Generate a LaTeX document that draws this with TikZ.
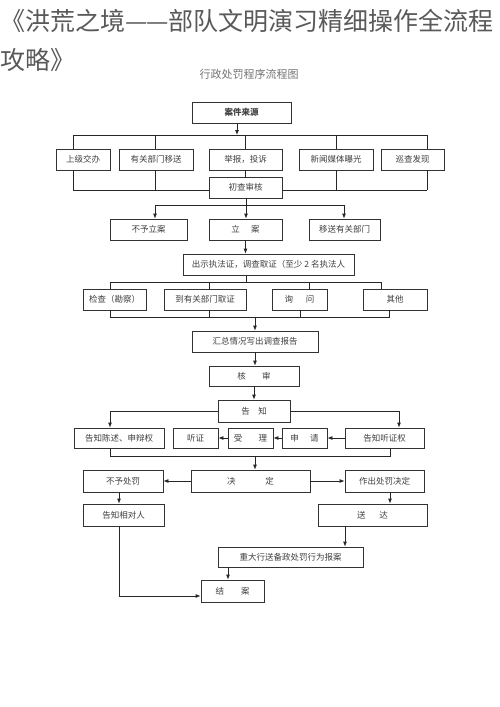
\documentclass[tikz,border=0pt]{standalone}
\usepackage{fontspec}
\setmainfont{Noto Sans CJK SC}
\usetikzlibrary{arrows.meta}
\newcommand\gp[1]{\hspace{#1em}}

\begin{document}
\begin{tikzpicture}[x=1pt,y=-1pt,
  box/.style={draw=black!80,line width=0.8pt,fill=white,inner sep=0pt,minimum height=21pt,
    font=\fontsize{8.5}{10}\selectfont,text=black!75},
  ln/.style={line width=0.8pt,black!85},
  arr/.style={ln,-{Latex[length=5pt,width=4pt]}}]
\useasboundingbox (0,0) rectangle (500,707);

\node[anchor=base west,inner sep=0pt,font=\fontsize{25}{30}\selectfont,text=black!65] (title1) at (0,30) {《洪荒之境—\kern-1pt—部队文明演习精细操作全流程};
\node[anchor=base west,inner sep=0pt,font=\fontsize{25}{30}\selectfont,text=black!65] (title2) at (0,69) {攻略》};
\node[font=\fontsize{11}{13}\selectfont,text=black!55] (sub) at (249,74) {行政处罚程序流程图};

\node[box,minimum width=99pt,font=\bfseries\fontsize{8.5}{10}\selectfont] (src) at (241.5,112.5) {案件来源};

\node[box,minimum width=54pt] (sj) at (83,159.5) {上级交办};
\node[box,minimum width=74pt] (yg) at (156,159.5) {有关部门移送};
\node[box,minimum width=73pt] (jb) at (245.5,159.5) {举报，投诉};
\node[box,minimum width=74pt] (xw) at (336,159.5) {新闻媒体曝光};
\node[box,minimum width=63pt] (xc) at (412.5,159.5) {巡查发现};

\node[box,minimum width=73pt] (cc) at (245.5,187.5) {初查审核};

\node[box,minimum width=77pt] (by) at (148.5,229.5) {不予立案};
\node[box,minimum width=73pt] (la) at (245.5,229.5) {立\gp{1.3}案};
\node[box,minimum width=71pt] (ys) at (344.5,229.5) {移送有关部门};

\node[box,minimum width=171pt] (cs) at (268.5,264.5) {出示执法证，调查取证（至少 2 名执法人};

\node[box,minimum width=63pt] (jc) at (114.5,299.5) {检查（勘察）};
\node[box,minimum width=82pt] (dy) at (205,299.5) {到有关部门取证};
\node[box,minimum width=55pt] (xn) at (299.5,299.5) {询\gp{1.5}问};
\node[box,minimum width=64pt] (qt) at (395,299.5) {其他};

\node[box,minimum width=126pt] (hz) at (255,341.5) {汇总情况写出调查报告};
\node[box,minimum width=90pt,minimum height=20pt] (hs) at (254,376) {核\gp{1.9}审};
\node[box,minimum width=72pt,minimum height=22pt] (gz) at (254,411) {告\gp{1}知};

\node[box,minimum width=90pt,minimum height=20pt] (gc) at (119,438) {告知陈述、申辩权};
\node[box,minimum width=45pt,minimum height=20pt] (tz) at (195.5,438) {听证};
\node[box,minimum width=45pt,minimum height=20pt] (sl) at (250.5,438) {受\gp{1.9}理};
\node[box,minimum width=45pt,minimum height=20pt] (sq) at (304.5,438) {申\gp{1.3}请};
\node[box,minimum width=79pt,minimum height=20pt] (gt) at (384.5,438) {告知听证权};

\node[box,minimum width=80pt,minimum height=22pt] (bc) at (123,481) {不予处罚};
\node[box,minimum width=119pt,minimum height=22pt] (jd) at (250.5,481) {决\gp{3.5}定};
\node[box,minimum width=79pt,minimum height=22pt] (zc) at (384.5,481) {作出处罚决定};

\node[box,minimum width=81pt,minimum height=22pt] (gx) at (123.5,515) {告知相对人};
\node[box,minimum width=109pt,minimum height=22pt] (sd) at (372.5,515) {送\gp{1.6}达};

\node[box,minimum width=145pt,minimum height=20pt] (zd) at (290.5,557) {重大行送备政处罚行为报案};
\node[box,minimum width=63pt,minimum height=22pt] (ja) at (232.5,591) {结\gp{2}案};

\coordinate (b1) at (237,135);
\coordinate (b1w) at (73,135);
\coordinate (b1e) at (427,135);
\draw[arr] (src.south -| b1) -- (b1);
\draw[ln] (b1w) -- (b1e);
\foreach \x/\n in {73/sj,155/yg,245/jb,336/xw,427/xc}
  \draw[ln] (\x,135) -- (\x,135 |- \n.north);

\coordinate (b2w) at (73,190);
\coordinate (b2e) at (427,190);
\draw[ln] (b2w) -- (b2w -| cc.west);
\draw[ln] (b2e -| cc.east) -- (b2e);
\foreach \x/\n in {73/sj,155/yg,336/xw,427/xc}
  \draw[ln] (\x,190 |- \n.south) -- (\x,190);
\draw[ln] (jb) -- (cc);

\coordinate (b3) at (246,205);
\coordinate (b3w) at (155,205);
\coordinate (b3e) at (344,205);
\draw[ln] (cc.south -| b3) -- (b3);
\draw[ln] (b3w) -- (b3e);
\foreach \x/\n in {155/by,246/la,344/ys}
  \draw[arr] (\x,205) -- (\x,205 |- \n.north);

\draw[arr] (la.south) -- (la |- cs.north);

\coordinate (b4) at (246,282);
\coordinate (b4w) at (110,282);
\coordinate (b4e) at (381,282);
\draw[ln] (cs.south -| b4) -- (b4);
\draw[ln] (b4w) -- (b4e);
\foreach \x/\n in {110/jc,209/dy,309/xn,381/qt}
  \draw[ln] (\x,282) -- (\x,282 |- \n.north);

\coordinate (b5w) at (110,317);
\coordinate (b5e) at (390,317);
\draw[ln] (b5w) -- (b5e);
\foreach \x/\n in {110/jc,209/dy,300/xn,389/qt}
  \draw[ln] (\x,317 |- \n.south) -- (\x,317);
\draw[arr] (hz |- b5w) -- (hz.north);
\draw[arr] (hz.south) -- (hz.south |- hs.north);
\draw[arr] (hs.south) -- (hs.south |- gz.north);

\draw[arr] (gz.west) -| ([xshift=-9pt]gc.north);
\draw[arr] (gz.east) -| ([xshift=14.5pt]gt.north);
\draw[arr] (gt) -- (sq);
\draw[arr] (sq) -- (sl);
\draw[arr] (sl) -- (tz);

\coordinate (b6) at (255,456);
\coordinate (b6w) at (110,456);
\coordinate (b6e) at (390,456);
\draw[ln] ([xshift=-9pt]gc.south) -- (b6w) -- (b6e) -- ([xshift=5.5pt]gt.south);
\draw[arr] (b6) -- (b6 |- jd.north);

\draw[arr] (jd) -- (bc);
\draw[arr] (jd) -- (zc);
\draw[arr] ([xshift=-4pt]bc.south) -- ([xshift=-4.5pt]gx.north);
\draw[arr] ([xshift=5.5pt]zc.south) -- ([xshift=17.5pt]sd.north);
\draw[arr] ([xshift=-27.5pt]sd.south) -- ([xshift=54.5pt]zd.north);
\draw[arr] ([xshift=-62.5pt]zd.south) -- ([xshift=-4.5pt]ja.north);
\draw[arr] ([xshift=-4.5pt]gx.south) |- ([yshift=-5pt]ja.west);

\end{tikzpicture}
\end{document}
